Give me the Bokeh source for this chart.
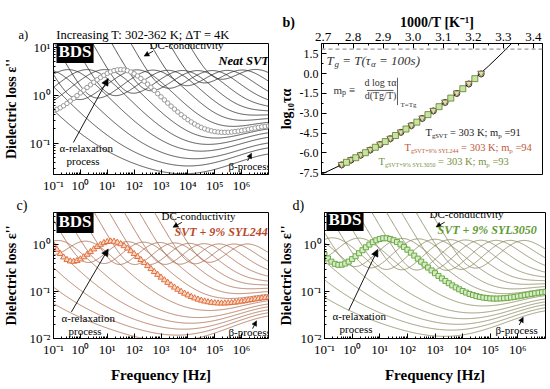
import numpy as np
from bokeh.plotting import figure
from bokeh.layouts import row, column
from bokeh.models import (Range1d, FixedTicker, CustomJSTickFormatter, PrintfTickFormatter,
                          Label, Arrow, NormalHead, Span, ColumnDataSource)
from bokeh.embed import file_html
from bokeh.resources import INLINE

SERIF = "Liberation Serif"
NB = "\u00a0"

# ------------------------------------------------------------------ data
temperatures_K = [302, 306, 310, 314, 318, 322, 326, 330, 334, 338, 342, 346, 350, 354, 358, 362]
highlight_index = 6

# panel a : neat SVT  (alpha-peak position log10(f/Hz), peak loss, DC loss at 1 Hz (log10), beta strength)
a_log_fpeak = [-3.0, -2.1, -1.25, -0.45, 0.25, 0.9, 1.5, 2.1, 2.7, 3.25, 3.8, 4.35, 4.9, 5.45, 6.0, 6.5]
a_peak = [3.4, 3.4, 3.4, 3.4, 3.4, 3.4, 3.4, 3.35, 3.3, 3.25, 3.2, 3.15, 3.1, 3.05, 3.0, 2.95]
a_log_dc = [-5.6, -4.9, -4.2, -3.5, -2.8, -2.2, -1.9, -0.6, 0.11, 0.82, 1.53, 2.24, 2.95, 3.66, 4.37, 5.08]
a_beta = [0.06, 0.08, 0.10, 0.13, 0.16, 0.19, 0.215, 0.25, 0.29, 0.33, 0.37, 0.40, 0.43, 0.46, 0.50, 0.55]

# panel c : SVT + 9% SYL244
c_log_fpeak = [-4.2, -3.3, -2.45, -1.6, -0.8, 0.2, 1.15, 1.75, 2.35, 2.95, 3.5, 4.05, 4.6, 5.15, 5.7, 6.2]
c_peak = [1.2, 1.2, 1.2, 1.19, 1.18, 1.17, 1.17, 1.15, 1.12, 1.1, 1.07, 1.04, 1.01, 0.98, 0.95, 0.92]
c_log_dc = [-4.4, -3.84, -3.28, -2.72, -2.16, -1.6, -1.04, -0.48, 0.08, 0.64, 1.2, 1.76, 2.32, 2.88, 3.44, 4.0]
c_beta = [0.031, 0.036, 0.041, 0.047, 0.053, 0.06, 0.068, 0.076, 0.085, 0.095, 0.105, 0.115, 0.125, 0.135, 0.145, 0.155]

# panel d : SVT + 9% SYL3050
d_log_fpeak = [-4.0, -3.1, -2.3, -1.5, -0.7, 0.25, 1.19, 1.8, 2.4, 3.0, 3.55, 4.1, 4.65, 5.2, 5.7, 6.2]
d_peak = [1.4, 1.4, 1.4, 1.39, 1.38, 1.37, 1.37, 1.35, 1.32, 1.29, 1.26, 1.23, 1.2, 1.17, 1.14, 1.1]
d_log_dc = [-4.6, -4.07, -3.53, -3.0, -2.46, -1.93, -1.28, -0.75, -0.21, 0.32, 0.86, 1.4, 1.93, 2.47, 3.0, 3.54]
d_beta = [0.04, 0.046, 0.053, 0.06, 0.068, 0.078, 0.09, 0.1, 0.11, 0.12, 0.13, 0.14, 0.15, 0.16, 0.17, 0.18]

# panel b : relaxation map
b_invT_fit = [2.695, 2.75, 2.80, 2.85, 2.90, 2.95, 3.00, 3.05, 3.10, 3.15, 3.20, 3.25, 3.30, 3.33]
b_logtau_fit = [-7.61, -7.02, -6.46, -5.87, -5.23, -4.56, -3.85, -3.09, -2.27, -1.40, -0.46, 0.56, 1.65, 2.35]
b_invT_svt = [3.226, 3.185, 3.145, 3.106, 3.067, 3.030, 2.994, 2.959, 2.924, 2.890, 2.857, 2.825, 2.793, 2.762]
b_logtau_svt = [-0.02, -0.78, -1.50, -2.18, -2.82, -3.39, -3.93, -4.44, -4.92, -5.36, -5.78, -6.17, -6.54, -6.90]
b_logtau_syl244 = [0.03, -0.74, -1.46, -2.15, -2.78, -3.36, -3.90, -4.41, -4.89, -5.33, -5.75, -6.14, -6.51, -6.87]
b_invT_syl3050 = [3.205, 3.165, 3.125, 3.086, 3.049, 3.012, 2.976, 2.941, 2.907, 2.874, 2.841, 2.809, 2.778]
b_logtau_syl3050 = [-0.38, -1.14, -1.85, -2.50, -3.10, -3.67, -4.19, -4.68, -5.14, -5.57, -5.98, -6.36, -6.71]
b_logtau_glass = 1.85

x_decades = [-1, 0, 1, 2, 3, 4, 5, 6, 7]
b_xticks = [2.7, 2.8, 2.9, 3.0, 3.1, 3.2, 3.3, 3.4]
b_yticks = [-7.5, -6.0, -4.5, -3.0, -1.5, 0.0, 1.5]

# shape of the loss spectra (per panel)
SHAPE = {"a": dict(p=0.5, q=0.65, w=0.07, qw=0.2, lfb=7.5, pb=0.3),
         "c": dict(p=0.7, q=0.65, w=0.12, qw=0.2, lfb=7.5, pb=0.3),
         "d": dict(p=0.7, q=0.65, w=0.12, qw=0.2, lfb=7.5, pb=0.3)}

# ------------------------------------------------------------------ geometry (page pixels)
GEOM = {
    "a": dict(L=52, R=268, T=43, B=178, x=(-1, 7), y=(-1.65, 1.075), log=True),
    "b": dict(L=318, R=542, T=43, B=177, x=(2.695, 3.43), y=(-7.63, 2.28), log=False),
    "c": dict(L=52, R=268, T=210, B=338, x=(-1, 7), y=(-2.0, 0.685), log=True),
    "d": dict(L=317, R=545, T=210, B=340, x=(-1, 7), y=(-2.0, 0.685), log=True),
}


def to_data(k, px, py):
    g = GEOM[k]
    fx = (px - g["L"]) / (g["R"] - g["L"])
    fy = (g["B"] - py) / (g["B"] - g["T"])
    vx = g["x"][0] + fx * (g["x"][1] - g["x"][0])
    vy = g["y"][0] + fy * (g["y"][1] - g["y"][0])
    if g["log"]:
        return 10 ** vx, 10 ** vy
    return vx, vy


def loss(f, lfp, h, ldc, hb, s):
    x = f / 10 ** lfp
    p, q, w, qw = s["p"], s["q"], s["w"], s["qw"]
    main = (p + q) / (q * x ** (-p) + p * x ** q)
    wing = w * (p + qw) / (qw * x ** (-p) + p * x ** qw)
    alpha = h * (main + wing) / (1 + w)
    xb = f / 10 ** s["lfb"]
    beta = hb * 2.0 / (xb ** (-s["pb"]) + xb ** s["pb"])
    return 10 ** ldc / f + alpha + beta


SUP = "const s={'-':'\u207b','0':'\u2070','1':'\u00b9','2':'\u00b2','3':'\u00b3','4':'\u2074','5':'\u2075','6':'\u2076','7':'\u2077','8':'\u2078','9':'\u2079'};"
POW_FMT = SUP + "const e=Math.round(Math.log10(tick));return '10'+String(e).split('').map(c=>s[c]).join('');"


def style_axis(ax, size="13px"):
    ax.major_label_text_font = SERIF
    ax.major_label_text_font_size = size
    ax.major_label_text_color = "black"
    ax.axis_label_text_font = SERIF
    ax.axis_label_text_font_style = "bold"
    ax.axis_label_text_color = "black"
    ax.major_tick_in = 5
    ax.major_tick_out = 0
    ax.minor_tick_in = 2
    ax.minor_tick_out = 0
    ax.axis_line_color = "black"
    ax.major_tick_line_color = "black"
    ax.minor_tick_line_color = "black"


def base_fig(k, w, h, borders, **kw):
    l, r, t, b = borders
    g = GEOM[k]
    xr = [10 ** v for v in g["x"]] if g["log"] else list(g["x"])
    yr = [10 ** v for v in g["y"]] if g["log"] else list(g["y"])
    p = figure(width=w, height=h, output_backend="svg", toolbar_location=None,
               x_range=Range1d(*xr), y_range=Range1d(*yr),
               min_border_left=l, min_border_right=r, min_border_top=t, min_border_bottom=b,
               **kw)
    p.grid.visible = False
    p.outline_line_color = "black"
    p.outline_line_width = 1
    p.background_fill_color = "white"
    p.border_fill_color = "white"
    return p


def heading(p, k, px, text, size, style="normal", standoff=0):
    """figure title (lies outside the frame); px = page x of its left end"""
    g = GEOM[k]
    p.title.text = text
    p.title.align = "left"
    p.title.offset = px - g["L"]
    p.title.text_font = SERIF
    p.title.text_font_size = f"{size}px"
    p.title.text_font_style = style
    p.title.text_color = "black"
    p.title.standoff = standoff


def label(p, k, px, py, text, size, color="black", style="normal", align="left", **kw):
    g = GEOM[k]
    p.add_layout(Label(x=px - g["L"], y=g["B"] - py, x_units="screen", y_units="screen",
                       text=text, text_font=SERIF, text_font_size=f"{size}px",
                       text_color=color, text_font_style=style, text_align=align,
                       text_baseline="middle", **kw))


def arrow(p, k, p0, p1, size=6):
    x0, y0 = to_data(k, *p0)
    x1, y1 = to_data(k, *p1)
    p.add_layout(Arrow(end=NormalHead(size=size, fill_color="black", line_color="black", line_width=0.5),
                       x_start=x0, y_start=y0, x_end=x1, y_end=y1,
                       line_color="black", line_width=0.9))


WID = {' ': .25, 'T': .611, '=': .564, 'K': .722, ';': .278, 'm': .778, 'p': .5, 'g': .5, 'S': .556,
       'V': .722, '+': .564, '%': .833, 'Y': .722, 'L': .611, 'd': .5, 'l': .278, 'o': .5, '(': .333,
       ')': .333, '/': .278, '\u03c4': .45, '\u03b1': .55, '\u2261': .6, 's': .389, '.': .25}


def twidth(s, size):
    return sum(WID.get(c, 0.5) for c in s) * size


def rich(p, k, px, py, segs, color, style="normal"):
    off = 0.0
    for text, size, dy in segs:
        lead = len(text) - len(text.lstrip(' '))
        off += lead * 0.25 * size
        core = text.strip(' ')
        if core:
            label(p, k, px + off, py + dy, core, size, color=color, style=style)
            off += twidth(core, size)
        trail = len(text) - len(text.rstrip(' '))
        off += trail * 0.25 * size


# ------------------------------------------------------------------ spectra panels
logf_line = np.linspace(-1, 7, 321)
logf_marks = np.arange(-1, 7.0001, 0.125)
Y_TITLE = "Dielectric loss \u03b5''"


def spectra_panel(k, w, h, borders, lfp, peak, ldc, beta, line_color, marker, mk_line, mk_fill, mk_size,
                  xlabel, ystandoff):
    p = base_fig(k, w, h, borders, x_axis_type="log", y_axis_type="log")
    s = SHAPE[k]
    f = 10 ** logf_line
    xs, ys = [], []
    for i in range(len(lfp)):
        if i == highlight_index:
            continue
        xs.append(f)
        ys.append(loss(f, lfp[i], peak[i], ldc[i], beta[i], s))
    p.multi_line(xs, ys, line_color=line_color, line_width=0.8)
    fm = 10 ** logf_marks
    i = highlight_index
    src = ColumnDataSource(dict(f=fm, e=loss(fm, lfp[i], peak[i], ldc[i], beta[i], s)))
    p.scatter("f", "e", source=src, marker=marker, size=mk_size, line_color=mk_line,
              fill_color=mk_fill, line_width=1)
    p.xaxis.ticker = FixedTicker(ticks=[10.0 ** d for d in x_decades[:-1]],
                                 minor_ticks=[m * 10.0 ** d for d in x_decades[:-1] for m in range(2, 10)])
    p.xaxis.formatter = CustomJSTickFormatter(code=POW_FMT)
    ylo, yhi = GEOM[k]["y"]
    ydec = [d for d in range(-3, 3) if ylo <= d <= yhi]
    p.yaxis.ticker = FixedTicker(ticks=[10.0 ** d for d in ydec],
                                 minor_ticks=[m * 10.0 ** d for d in range(-3, 2) for m in range(2, 10)])
    p.yaxis.formatter = CustomJSTickFormatter(code=POW_FMT)
    style_axis(p.xaxis[0])
    style_axis(p.yaxis[0])
    p.xaxis.major_label_standoff = 3
    p.yaxis.major_label_standoff = 3
    p.yaxis.axis_label = Y_TITLE
    p.yaxis.axis_label_text_font_size = "14px"
    p.yaxis.axis_label_standoff = ystandoff
    if xlabel:
        p.xaxis.axis_label = "Frequency [Hz]"
        p.xaxis.axis_label_text_font_size = "15px"
        p.xaxis.axis_label_standoff = 7
    return p


pa = spectra_panel("a", 275, 195, (52, 7, 43, 17), a_log_fpeak, a_peak, a_log_dc, a_beta,
                   "#2a2a2a", "circle", "#9a9a9a", "white", 4.5, False, 8)
pc = spectra_panel("c", 275, 194, (52, 7, 15, 51), c_log_fpeak, c_peak, c_log_dc, c_beta,
                   "#a8684c", "triangle", "#e2703f", "#fbd9c6", 6, True, 8)
pd = spectra_panel("d", 275, 194, (42, 5, 15, 49), d_log_fpeak, d_peak, d_log_dc, d_beta,
                   "#86865c", "square", "#6caa46", "#d8ecc8", 5, True, 4)

# headings outside the frames
heading(pa, "a", 17, "a)" + NB * 9 + "Increasing T: 302-362 K; \u0394T = 4K", 12.5, standoff=4)
heading(pc, "c", 15, "c)", 14)
heading(pd, "d", 285, "d)", 14)

# annotations panel a
label(pa, "a", 55, 55, "BDS", 17, color="white", style="bold", background_fill_color="black", padding=2)
label(pa, "a", 148, 48, "DC-conductivity", 11)
arrow(pa, "a", (152, 51), (143, 56), 5)
label(pa, "a", 217, 64, "Neat SVT", 12.5, style="bold italic")
label(pa, "a", 58, 151, "\u03b1-relaxation", 11)
label(pa, "a", 65, 164, "process", 11)
arrow(pa, "a", (72, 145), (107, 79), 7)
label(pa, "a", 227, 169, "\u03b2-process", 11)
arrow(pa, "a", (247, 164), (251, 156), 5)

# annotations panel c
label(pc, "c", 55, 221, "BDS", 17, color="white", style="bold", background_fill_color="black", padding=2)
label(pc, "c", 160, 215, "DC-conductivity", 11)
arrow(pc, "c", (181, 220), (172, 225), 5)
label(pc, "c", 173, 231, "SVT + 9% SYL244", 12, color="#b8482a", style="bold italic")
label(pc, "c", 60, 317, "\u03b1-relaxation", 11)
label(pc, "c", 67, 330, "process", 11)
arrow(pc, "c", (70, 311), (107, 247), 7)
label(pc, "c", 227, 331, "\u03b2-process", 11)
arrow(pc, "c", (252, 328), (256, 320), 5)

# annotations panel d
label(pd, "d", 319, 221, "BDS", 17, color="white", style="bold", background_fill_color="black", padding=2)
label(pd, "d", 422, 215, "DC-conductivity", 11)
arrow(pd, "d", (441, 220), (432, 225), 5)
label(pd, "d", 430, 231, "SVT + 9% SYL3050", 12, color="#5f9a34", style="bold italic")
label(pd, "d", 325, 317, "\u03b1-relaxation", 11)
label(pd, "d", 332, 330, "process", 11)
arrow(pd, "d", (342, 311), (372, 248), 7)
label(pd, "d", 488, 331, "\u03b2-process", 11)
arrow(pd, "d", (518, 326), (522, 318), 5)

# ------------------------------------------------------------------ panel b
pb = base_fig("b", 275, 195, (43, 8, 43, 18), x_axis_location="above")
pb.add_layout(Span(location=b_logtau_glass, dimension="width", line_color="#999999",
                   line_dash="4 3", line_width=1.2))
pb.line(b_invT_fit, b_logtau_fit, line_color="black", line_width=1)
pb.scatter(b_invT_svt, b_logtau_svt, marker="circle", size=6, line_color="black",
           fill_color=None, line_width=0.8)
pb.scatter(b_invT_svt, b_logtau_syl244, marker="inverted_triangle", size=7, line_color="#7b5030",
           fill_color="#cfe6a8", line_width=0.8)
pb.scatter(b_invT_syl3050, b_logtau_syl3050, marker="square", size=6, line_color="#5b7b2b",
           fill_color="#c9e4a0", line_width=0.8)
pb.xaxis.ticker = FixedTicker(ticks=b_xticks, minor_ticks=[t + 0.05 for t in b_xticks])
pb.yaxis.ticker = FixedTicker(ticks=b_yticks, minor_ticks=[t + 0.75 for t in b_yticks])
pb.xaxis.formatter = PrintfTickFormatter(format="%.1f")
pb.yaxis.formatter = PrintfTickFormatter(format="%.1f")
style_axis(pb.xaxis[0], "13px")
style_axis(pb.yaxis[0], "12px")
pb.xaxis.major_label_standoff = 3
pb.yaxis.major_label_standoff = 3
pb.yaxis.axis_label = "log\u2081\u2080\u03c4\u03b1"
pb.yaxis.axis_label_text_font_size = "14px"
pb.yaxis.axis_label_standoff = 3
heading(pb, "b", 279, "b)" + NB * 30 + "1000/T [K\u207b\u00b9]", 14, style="bold")

rich(pb, "b", 323, 63, [("T", 13, 0), ("g", 9, 3), (" = T(\u03c4", 13, 0), ("\u03b1", 9, 3),
                        (" = 100s)", 13, 0)], "#333333", style="italic")
# m_p definition
rich(pb, "b", 330, 92, [("m", 11, 0), ("p", 8, 3), (" \u2261", 11, 0)], "#333333")
label(pb, "b", 377, 85, "d log \u03c4\u03b1", 10, color="#333333", align="center")
label(pb, "b", 377, 98, "d(Tg/T)", 10, color="#333333", align="center")
fx0, fy0 = to_data("b", 364, 91)
fx1, _ = to_data("b", 391, 91)
pb.segment(x0=[fx0], y0=[fy0], x1=[fx1], y1=[fy0], line_color="#333333", line_width=0.8)
vx0, vy0 = to_data("b", 395, 78)
_, vy1 = to_data("b", 395, 106)
pb.segment(x0=[vx0], y0=[vy0], x1=[vx0], y1=[vy1], line_color="#333333", line_width=0.8)
label(pb, "b", 397, 107, "T=Tg", 7, color="#333333")
# Tg / fragility lines
rich(pb, "b", 422, 135, [("T", 10.5, 0), ("gSVT", 6.5, 3), (" = 303 K; m", 10.5, 0), ("p", 7, 3),
                         (" =91", 10.5, 0)], "#222222")
rich(pb, "b", 401, 150, [("T", 10.5, 0), ("gSVT+9% SYL244", 6, 3), (" = 303 K; m", 10.5, 0), ("p", 7, 3),
                         (" =94", 10.5, 0)], "#c0583a")
rich(pb, "b", 375, 164, [("T", 10.5, 0), ("gSVT+9% SYL3050", 6, 3), (" = 303 K; m", 10.5, 0), ("p", 7, 3),
                         (" =93", 10.5, 0)], "#76923c")

layout = column(row(pa, pb), row(pc, pd))
open("out.html", "w").write(file_html(layout, INLINE, title="BDS"))
